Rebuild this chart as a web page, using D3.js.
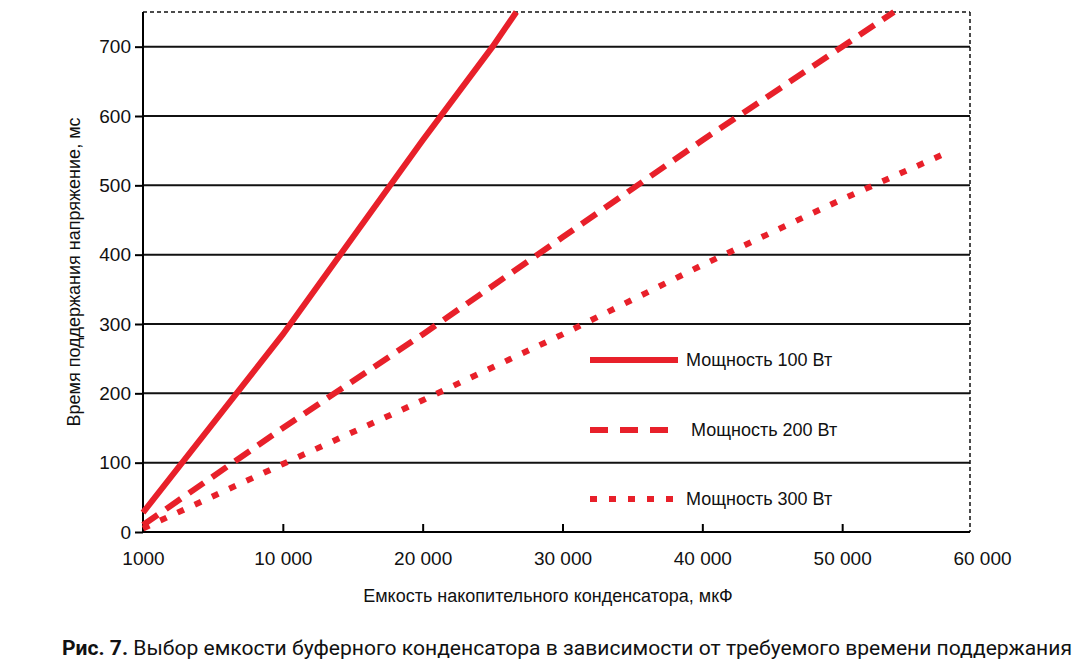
<!DOCTYPE html><html><head><meta charset="utf-8"><script src="https://cdn.jsdelivr.net/npm/d3@7"></script>
<style>body{margin:0;background:#fff}svg{font-family:"Liberation Sans",Arial,sans-serif}</style></head><body><svg id="c" width="1078" height="666"></svg>
<script>
const xTicks=[0,10000,20000,30000,40000,50000,60000];
const xTickLabels=["1000","10 000","20 000","30 000","40 000","50 000","60 000"];
const yTicks=[0,100,200,300,400,500,600,700];
const s100x=[0,10000,20000,25000,26700];
const s100y=[28,285,565,700,750];
const s200x=[0,10000,20000,30000,40000,50000,53700];
const s200y=[10,150,285,425,565,700,750];
const s300x=[0,10000,20000,30000,40000,50000,57600];
const s300y=[5,98,190,285,385,480,548];
const series=[{name:"Мощность 100 Вт",x:s100x,y:s100y,dash:null},{name:"Мощность 200 Вт",x:s200x,y:s200y,dash:"18,10"},{name:"Мощность 300 Вт",x:s300x,y:s300y,dash:"7,12"}];
const svg=d3.select("#c");
const x=d3.scaleLinear().domain([0,60000]).range([143,982]);
const y=d3.scaleLinear().domain([0,750]).range([532,12]);
const xr=970;
svg.append("g").selectAll("line").data(yTicks.filter(d=>d>0)).join("line").attr("x1",143).attr("x2",xr).attr("y1",y).attr("y2",y).attr("stroke","#111").attr("stroke-width",2);
svg.append("line").attr("x1",143).attr("x2",xr).attr("y1",y(750)).attr("y2",y(750)).attr("stroke","#111").attr("stroke-width",1.5).attr("stroke-dasharray","4,3");
svg.append("line").attr("x1",xr).attr("x2",xr).attr("y1",y(750)).attr("y2",y(0)).attr("stroke","#111").attr("stroke-width",1.5).attr("stroke-dasharray","4,3");
const ya=svg.append("g").attr("transform","translate(143,0)").call(d3.axisLeft(y).tickValues(yTicks).tickSize(8).tickFormat(d3.format("d")));
ya.select(".domain").attr("stroke-width",2).attr("d","M0,"+y(750)+"V"+y(0));
ya.selectAll("line").attr("stroke-width",2);
ya.selectAll("text").attr("font-size",19).attr("fill","#111").attr("dx",-1);
const xa=svg.append("g").attr("transform","translate(0,532)").call(d3.axisBottom(x).tickValues(xTicks).tickSize(8).tickFormat((d,i)=>xTickLabels[i]));
xa.select(".domain").attr("stroke-width",2).attr("d","M143,0H"+xr);
xa.selectAll("line").attr("stroke-width",2).attr("y1",-8).attr("y2",0);
xa.selectAll(".tick").filter(d=>d===60000).select("line").remove();
xa.selectAll("text").attr("font-size",19).attr("fill","#111").attr("dy","1.15em");
const line=d3.line().x(d=>x(d[0])).y(d=>y(d[1]));
series.forEach(s=>{svg.append("path").attr("d",line(s.x.map((v,i)=>[v,s.y[i]]))).attr("fill","none").attr("stroke","#e8202a").attr("stroke-width",6).attr("stroke-dasharray",s.dash);});
const lg=[360,430,499];
series.forEach((s,i)=>{svg.append("line").attr("x1",590).attr("x2",678).attr("y1",lg[i]).attr("y2",lg[i]).attr("stroke","#e8202a").attr("stroke-width",6).attr("stroke-dasharray",i==1?"18,12":(i==2?"7,12":null));
svg.append("text").attr("x",i==1?691:686).attr("y",lg[i]+6).attr("font-size",18).attr("fill","#111").text(s.name);});
svg.append("text").attr("x",548).attr("y",602).attr("text-anchor","middle").attr("font-size",18).attr("fill","#111").text("Емкость накопительного конденсатора, мкФ");
svg.append("text").attr("transform","translate(80,272) rotate(-90)").attr("text-anchor","middle").attr("font-size",18).attr("fill","#111").text("Время поддержания напряжение, мс");
const cap=svg.append("text").attr("x",62).attr("y",655).attr("font-size",20).attr("fill","#111").attr("font-family","Roboto").attr("textLength",1010).attr("lengthAdjust","spacingAndGlyphs");
cap.append("tspan").attr("font-weight","bold").text("Рис. 7.");
cap.append("tspan").text(" Выбор емкости буферного конденсатора в зависимости от требуемого времени поддержания");
</script></body></html>
